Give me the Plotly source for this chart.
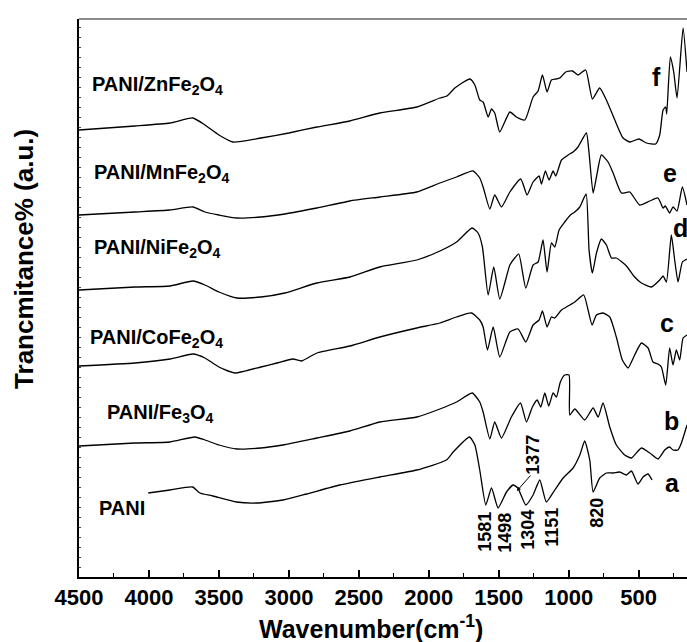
import plotly.graph_objects as go

# ---------------- data (wavenumber cm-1, offset transmittance a.u.) ----------------
wn_f = [4500, 4100, 3850, 3686, 3600, 3500, 3400, 3200, 3000, 2800, 2564, 2350, 2086, 1921, 1871,
        1814, 1707, 1671, 1636, 1612, 1576, 1552, 1529, 1493, 1421, 1374, 1314, 1255, 1219, 1188,
        1155, 1124, 1088, 1064, 1021, 974, 934, 879, 831, 779, 731, 671, 612, 564, 498, 445, 379,
        350, 326, 307, 300, 274, 250, 226, 183, 155]
tr_f = [447, 451, 454, 459, 452, 442, 435, 439, 444, 450, 456, 464, 470, 479, 481,
        489, 498, 492, 477, 475, 460, 468, 464, 445, 465, 460, 457, 480, 486, 502,
        485, 497, 498, 499, 505, 506, 502, 507, 478, 489, 477, 457, 439, 435, 438, 434, 433,
        442, 467, 470, 463, 520, 505, 479, 549, 505]

wn_e = [4500, 4100, 3850, 3686, 3600, 3500, 3371, 3200, 3029, 2800, 2564, 2350, 2086, 1921, 1802,
        1684, 1636, 1612, 1564, 1529, 1481, 1421, 1343, 1298, 1255, 1212, 1195, 1167, 1141, 1112,
        1093, 1052, 1005, 969, 934, 874, 855, 826, 802, 767, 719, 683, 624, 564, 493, 421, 362,
        326, 310, 279, 255, 226, 188, 155]
tr_e = [362, 365, 367, 370, 365, 362, 359, 360, 363, 369, 376, 380, 385, 394, 400,
        406, 399, 390, 368, 382, 370, 385, 398, 382, 395, 401, 393, 406, 397, 406,
        401, 417, 422, 425, 430, 444, 424, 384, 400, 422, 415, 404, 384, 385, 372, 376, 379,
        369, 371, 364, 370, 366, 390, 372]

wn_d = [4500, 4100, 3850, 3686, 3600, 3500, 3371, 3200, 3029, 2800, 2564, 2350, 2086, 1921, 1802,
        1691, 1648, 1617, 1576, 1536, 1493, 1421, 1386, 1357, 1307, 1255, 1219, 1184, 1155, 1124,
        1100, 1069, 1029, 988, 957, 921, 876, 855, 831, 802, 767, 731, 695, 660, 588, 529, 481,
        410, 350, 326, 302, 267, 243, 219, 188, 155]
tr_d = [287, 290, 291, 296, 292, 285, 279, 280, 284, 294, 300, 310, 317, 326, 335,
        349, 344, 330, 282, 310, 278, 312, 319, 323, 289, 312, 315, 337, 305, 334,
        330, 347, 355, 362, 365, 370, 383, 327, 304, 324, 338, 332, 319, 319, 311, 300, 294,
        290, 297, 301, 295, 342, 317, 295, 315, 318]

wn_c = [4500, 4100, 3850, 3686, 3600, 3500, 3386, 3200, 3086, 2971, 2909, 2800, 2564, 2350, 2086,
        1921, 1802, 1695, 1636, 1612, 1581, 1540, 1493, 1421, 1362, 1307, 1255, 1212, 1188, 1155,
        1124, 1100, 1052, 1005, 957, 893, 862, 833, 802, 755, 707, 660, 617, 576, 529, 481, 433,
        398, 362, 338, 307, 279, 255, 231, 207, 183, 155]
tr_c = [211, 214, 218, 223, 219, 210, 204, 210, 214, 218, 216, 224, 231, 240, 249,
        254, 260, 264, 257, 250, 227, 250, 220, 245, 248, 235, 252, 257, 266, 250,
        260, 259, 267, 271, 275, 282, 267, 252, 262, 264, 260, 240, 217, 209, 222, 234, 229,
        215, 213, 210, 192, 229, 212, 227, 217, 239, 242]

wn_b = [4500, 4100, 3850, 3671, 3600, 3500, 3371, 3200, 3043, 2800, 2564, 2350, 2086, 1921, 1802,
        1690, 1636, 1612, 1564, 1529, 1481, 1410, 1345, 1302, 1260, 1226, 1200, 1171, 1143, 1112,
        1088, 1060, 1029, 998, 993, 957, 886, 826, 790, 755, 707, 660, 600, 552, 481, 421, 362,
        314, 279, 255, 219, 195, 155]
tr_b = [131, 134, 135, 140, 137, 132, 128, 129, 132, 139, 146, 155, 160, 168, 175,
        184, 175, 165, 138, 155, 139, 160, 174, 155, 170, 177, 170, 184, 171, 184,
        180, 195, 202, 202, 162, 168, 157, 169, 160, 174, 150, 132, 122, 119, 129, 124, 118,
        127, 130, 127, 127, 134, 152]

wn_a = [4005, 3850, 3688, 3636, 3543, 3374, 3231, 3041, 2874, 2636, 2350, 2086, 1874, 1826, 1710,
        1671, 1636, 1593, 1552, 1505, 1445, 1398, 1364, 1307, 1255, 1207, 1160, 1100, 1040, 969,
        921, 886, 850, 826, 779, 731, 683, 636, 588, 552, 505, 469, 433, 405]
tr_a = [84, 87, 90, 84, 81, 75, 74, 77, 83, 92, 100, 107, 117, 125, 140,
        132, 107, 72, 89, 69, 85, 92, 89, 72, 82, 97, 75, 87, 99, 109,
        122, 136, 117, 85, 99, 104, 104, 105, 102, 106, 93, 100, 103, 97]

sample_names = ["PANI", "PANI/Fe<sub>3</sub>O<sub>4</sub>", "PANI/CoFe<sub>2</sub>O<sub>4</sub>",
                "PANI/NiFe<sub>2</sub>O<sub>4</sub>", "PANI/MnFe<sub>2</sub>O<sub>4</sub>",
                "PANI/ZnFe<sub>2</sub>O<sub>4</sub>"]
curve_letters = ["a", "b", "c", "d", "e", "f"]
peak_labels = ["1581", "1498", "1304", "1151", "820", "1377"]

# label anchor positions (data coords)
name_pos = [(4371, 69), (4314, 164), (4436, 239), (4407, 329), (4407, 404), (4421, 492)]
letter_pos = [(257, 94), (264, 156), (300, 254), (200, 349), (279, 404), (371, 500)]
peak_pos = [(1600, 45), (1457, 44), (1293, 47), (1121, 50), (800, 64), (1257, 122)]

series = [(wn_a, tr_a), (wn_b, tr_b), (wn_c, tr_c), (wn_d, tr_d), (wn_e, tr_e), (wn_f, tr_f)]

FONT = "Arial, Liberation Sans, sans-serif"

fig = go.Figure()
for wn, tr in series:
    fig.add_trace(go.Scatter(x=wn, y=tr, mode="lines",
                             line=dict(color="black", width=1.3, shape="spline", smoothing=0.5),
                             showlegend=False, hoverinfo="skip"))

ann = []
for name, (x, y) in zip(sample_names, name_pos):
    ann.append(dict(x=x, y=y, xref="x", yref="y", text="<b>" + name + "</b>", showarrow=False,
                    xanchor="left", yanchor="middle", font=dict(family=FONT, size=20, color="black")))
for let, (x, y) in zip(curve_letters, letter_pos):
    ann.append(dict(x=x, y=y, xref="x", yref="y", text="<b>" + let + "</b>", showarrow=False,
                    xanchor="center", yanchor="middle", font=dict(family=FONT, size=25, color="black")))
for lab, (x, y) in zip(peak_labels, peak_pos):
    ann.append(dict(x=x, y=y, xref="x", yref="y", text="<b>" + lab + "</b>", showarrow=False,
                    textangle=-90, xanchor="center", yanchor="middle",
                    font=dict(family=FONT, size=18, color="black")))
# arrow for 1377 shoulder
ann.append(dict(x=1371, y=86, ax=1264, ay=103, xref="x", yref="y", axref="x", ayref="y",
                text="", showarrow=True, arrowhead=2, arrowsize=0.8, arrowwidth=1, arrowcolor="black"))
# axis titles
ann.append(dict(x=-0.0905, y=0.57, xref="paper", yref="paper", text="<b>Trancmitance% (a.u.)</b>",
                textangle=-90, showarrow=False, xanchor="center", yanchor="middle",
                font=dict(family=FONT, size=26, color="black")))
ann.append(dict(x=0.48, y=-0.089, xref="paper", yref="paper", text="<b>Wavenumber(cm<sup>-1</sup>)</b>",
                showarrow=False, xanchor="center", yanchor="middle",
                font=dict(family=FONT, size=25, color="black")))

fig.update_layout(
    width=687, height=642,
    margin=dict(l=79, r=0, t=19, b=65),
    plot_bgcolor="white", paper_bgcolor="white",
    annotations=ann,
    shapes=[dict(type="line", xref="paper", yref="paper", x0=0, x1=1, y0=1, y1=1,
                 line=dict(color="#666666", width=1.5))],
    xaxis=dict(range=[4500, 155], showline=True, linecolor="black", linewidth=2,
               ticks="inside", ticklen=7, tickwidth=1.5, tickcolor="black",
               tick0=0, dtick=500, showgrid=False, zeroline=False,
               tickfont=dict(family=FONT, size=22, color="black", weight="bold"),
               ticklabelstandoff=0,
               minor=dict(ticks="inside", ticklen=4, tickwidth=1, tickcolor="black", dtick=250,
                          showgrid=False)),
    yaxis=dict(range=[0, 558], showline=True, linecolor="black", linewidth=2,
               showticklabels=False, ticks="inside", ticklen=2, tickwidth=1, tickcolor="#444444",
               dtick=10, showgrid=False, zeroline=False),
)

fig.write_html("out.html")
